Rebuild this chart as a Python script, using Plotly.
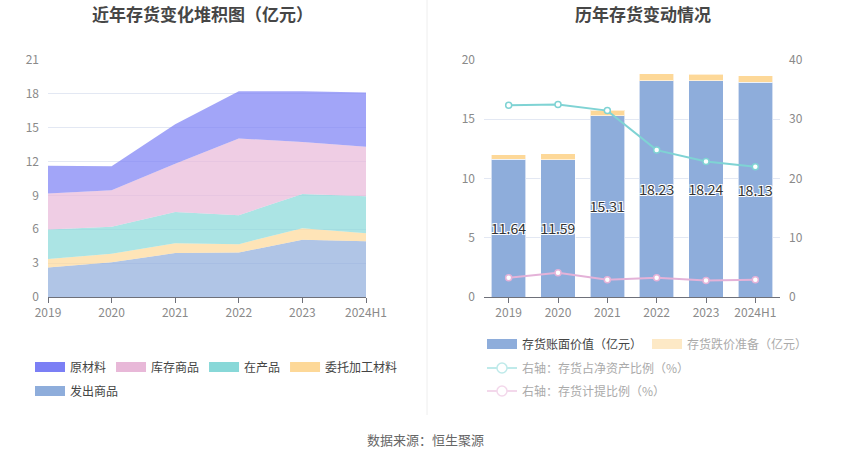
import plotly.graph_objects as go

years = ["2019", "2020", "2021", "2022", "2023", "2024H1"]

# Left chart: stacked inventory composition (亿元)
fachu = [2.62, 3.09, 3.89, 3.95, 5.07, 4.95]        # 发出商品
weituo = [0.74, 0.74, 0.88, 0.73, 1.03, 0.70]       # 委托加工材料
zaichan = [2.62, 2.39, 2.77, 2.57, 3.03, 3.27]      # 在产品
kucun = [3.18, 3.23, 4.27, 6.80, 4.60, 4.39]        # 库存商品
yuancailiao = [2.48, 2.14, 3.50, 4.18, 4.51, 4.82]  # 原材料

# Right chart
book_value = [11.64, 11.59, 15.31, 18.23, 18.24, 18.13]   # 存货账面价值（亿元）
provision = [0.37, 0.50, 0.45, 0.62, 0.55, 0.55]          # 存货跌价准备（亿元）
ratio_net_assets = [32.36, 32.47, 31.46, 24.79, 22.88, 21.99]  # 存货占净资产比例（%）
provision_ratio = [3.25, 4.09, 2.92, 3.25, 2.80, 2.92]         # 存货计提比例（%）

FONT = "Noto Sans CJK SC"
W, H = 850, 459

def px_x(x):
    return x / W

def px_y(y):
    return 1 - y / H

fig = go.Figure()

# ---- Left stacked areas ----
area_series = [
    ("发出商品", fachu, "rgba(142,173,219,0.7)", "#8eaddb"),
    ("委托加工材料", weituo, "rgba(253,216,152,0.7)", "#fdd898"),
    ("在产品", zaichan, "rgba(136,216,216,0.7)", "#88d8d8"),
    ("库存商品", kucun, "rgba(232,184,216,0.7)", "#e8b8d8"),
    ("原材料", yuancailiao, "rgba(123,127,245,0.7)", "#7b7ff5"),
]
for name, vals, fillc, solid in area_series:
    fig.add_trace(go.Scatter(
        x=years, y=vals, name=name, mode="lines", stackgroup="one",
        fillcolor=fillc, line=dict(width=0, color=solid),
        showlegend=False, xaxis="x", yaxis="y", hoverinfo="x+y+name",
    ))

# legend proxies for left chart
for name, vals, fillc, solid in reversed(area_series):
    fig.add_trace(go.Scatter(
        x=[None], y=[None], name=name, mode="lines",
        line=dict(width=10, color=solid),
        legend="legend" if name != "发出商品" else "legend2",
        xaxis="x", yaxis="y",
    ))

# ---- Right bars ----
shadow = "1px 1px 0px white, -1px -1px 0px white, 1px -1px 0px white, -1px 1px 0px white"
fig.add_trace(go.Bar(
    x=years, y=book_value, name="存货账面价值（亿元）",
    marker=dict(color="#8eaddb", line=dict(color="rgba(255,255,255,0.6)", width=1)),
    width=0.7, xaxis="x2", yaxis="y2", showlegend=False,
    texttemplate="%{y:.2f}", textposition="inside", insidetextanchor="middle",
    constraintext="none", cliponaxis=False,
    textfont=dict(color="#333333", size=14, family=FONT, shadow=shadow),
    textangle=0,
))
fig.add_trace(go.Bar(
    x=years, y=provision, name="存货跌价准备（亿元）",
    marker=dict(color="#fdd898", line=dict(color="rgba(255,255,255,0.6)", width=1)),
    width=0.7, xaxis="x2", yaxis="y2", showlegend=False,
))
fig.add_trace(go.Scatter(
    x=years, y=ratio_net_assets, name="右轴：存货占净资产比例（%）",
    mode="lines+markers", line=dict(color="#7fd3d4", width=2),
    marker=dict(symbol="circle", size=6, color="white", line=dict(color="#7fd3d4", width=1.5)),
    xaxis="x2", yaxis="y3", showlegend=False,
))
fig.add_trace(go.Scatter(
    x=years, y=provision_ratio, name="右轴：存货计提比例（%）",
    mode="lines+markers", line=dict(color="#e4b2d8", width=2),
    marker=dict(symbol="circle", size=6, color="white", line=dict(color="#e4b2d8", width=1.5)),
    xaxis="x2", yaxis="y3", showlegend=False,
))

# legend proxies for right chart
fig.add_trace(go.Scatter(x=[None], y=[None], name="存货账面价值（亿元）", mode="lines",
                         line=dict(width=10, color="#8eaddb"), legend="legend3",
                         xaxis="x2", yaxis="y2"))
fig.add_trace(go.Scatter(x=[None], y=[None],
                         name="<span style='color:#aaaaaa'>存货跌价准备（亿元）</span>",
                         mode="lines", line=dict(width=10, color="#fde9c6"), legend="legend3",
                         xaxis="x2", yaxis="y2"))
fig.add_trace(go.Scatter(x=[None], y=[None], name="右轴：存货占净资产比例（%）",
                         mode="lines+markers", line=dict(width=2, color="#bfeaea"),
                         marker=dict(size=10, color="white", line=dict(color="#bfeaea", width=1.5)),
                         legend="legend4", xaxis="x2", yaxis="y3"))
fig.add_trace(go.Scatter(x=[None], y=[None], name="右轴：存货计提比例（%）",
                         mode="lines+markers", line=dict(width=2, color="#f3d8eb"),
                         marker=dict(size=10, color="white", line=dict(color="#f3d8eb", width=1.5)),
                         legend="legend5", xaxis="x2", yaxis="y3"))

axis_font = dict(family=FONT, size=12, color="#8a8a8a")
grid_c = "#e3e8f3"
ydom = [px_y(297), px_y(60)]

legend_common = dict(orientation="h", xanchor="left", yanchor="middle",
                     bgcolor="rgba(0,0,0,0)", itemclick=False, itemdoubleclick=False,
                     font=dict(family=FONT, size=12, color="#444444"), tracegroupgap=0)
legend_grey = dict(legend_common, font=dict(family=FONT, size=12, color="#aaaaaa"))

fig.update_layout(
    width=W, height=H,
    margin=dict(l=0, r=0, t=0, b=0, autoexpand=False),
    paper_bgcolor="white", plot_bgcolor="white",
    font=dict(family=FONT),
    barmode="stack",
    xaxis=dict(domain=[px_x(48), px_x(366)], type="category", range=[0, 5],
               showline=True, linecolor="#6e7079", ticks="outside", ticklen=5,
               tickcolor="#6e7079", tickfont=axis_font, showgrid=False, anchor="y",
               fixedrange=True, automargin=False),
    yaxis=dict(domain=ydom, range=[0, 21], dtick=3, showgrid=True, gridcolor=grid_c,
               zeroline=False, showline=False, tickfont=axis_font, anchor="x",
               ticklabelstandoff=8, fixedrange=True, automargin=False),
    xaxis2=dict(domain=[px_x(484), px_x(780)], type="category",
                showline=True, linecolor="#6e7079", ticks="outside", ticklen=5,
                tickcolor="#6e7079", tickfont=axis_font, showgrid=False, anchor="y2",
                fixedrange=True, automargin=False),
    yaxis2=dict(domain=ydom, range=[0, 20], dtick=5, showgrid=True, gridcolor=grid_c,
                zeroline=False, showline=False, tickfont=axis_font, anchor="x2",
                ticklabelstandoff=8, fixedrange=True, automargin=False),
    yaxis3=dict(range=[0, 40], dtick=10, overlaying="y2", side="right", showgrid=False,
                zeroline=False, showline=False, tickfont=axis_font, anchor="x2",
                ticklabelstandoff=8, fixedrange=True, automargin=False),
    legend=dict(legend_common, x=px_x(30), y=px_y(367), traceorder="normal"),
    legend2=dict(legend_common, x=px_x(30), y=px_y(391)),
    legend3=dict(legend_common, x=px_x(482), y=px_y(344)),
    legend4=dict(legend_grey, x=px_x(482), y=px_y(368)),
    legend5=dict(legend_grey, x=px_x(482), y=px_y(391)),
    shapes=[dict(type="line", xref="paper", yref="paper", x0=px_x(427), x1=px_x(427),
                 y0=px_y(0), y1=px_y(415), line=dict(color="#eeeeee", width=1))],
    annotations=[
        dict(text="<b>近年存货变化堆积图（亿元）</b>", x=px_x(202), y=px_y(14),
             xref="paper", yref="paper", showarrow=False, xanchor="center", yanchor="middle",
             font=dict(family=FONT, size=17, color="#464646")),
        dict(text="<b>历年存货变动情况</b>", x=px_x(643), y=px_y(14),
             xref="paper", yref="paper", showarrow=False, xanchor="center", yanchor="middle",
             font=dict(family=FONT, size=17, color="#464646")),
        dict(text="数据来源：恒生聚源", x=px_x(425), y=px_y(439),
             xref="paper", yref="paper", showarrow=False, xanchor="center", yanchor="middle",
             font=dict(family=FONT, size=13, color="#666666")),
    ],
    hovermode="closest",
)

fig.write_html(
    "out.html",
    config={"displayModeBar": False},
    post_script="document.body.style.margin='0';document.body.style.overflow='hidden';",
)
